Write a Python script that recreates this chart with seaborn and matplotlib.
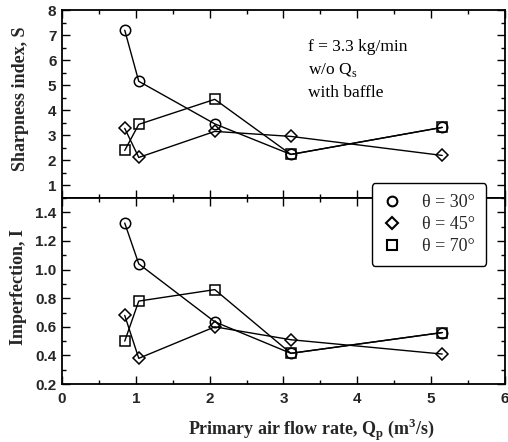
import matplotlib
matplotlib.use("Agg")
import matplotlib.pyplot as plt
from matplotlib.lines import Line2D
from matplotlib.ticker import MultipleLocator
import numpy as np
import pandas as pd
import seaborn as sns

# Primary air flow rate Qp (m^3/s)
flow_rate = [0.85, 1.04, 2.07, 3.10, 5.15]

# Sharpness index S for each inclination angle
sharpness_30 = [7.20, 5.16, 3.46, 2.24, 3.32]
sharpness_45 = [3.28, 2.12, 3.16, 2.96, 2.20]
sharpness_70 = [2.40, 3.44, 4.44, 2.24, 3.32]

# Imperfection I for each inclination angle
imperfection_30 = [1.325, 1.04, 0.635, 0.415, 0.56]
imperfection_45 = [0.68, 0.38, 0.60, 0.51, 0.41]
imperfection_70 = [0.50, 0.78, 0.86, 0.415, 0.56]

angle_labels = ["θ = 30°", "θ = 45°", "θ = 70°"]
angle_markers = ["o", "D", "s"]

sns.set_theme(style="white")
plt.rcParams["font.family"] = ["Liberation Sans", "DejaVu Sans"]
plt.rcParams["mathtext.fontset"] = "custom"
plt.rcParams["mathtext.rm"] = "Liberation Serif"
plt.rcParams["mathtext.bf"] = "Liberation Serif:bold"

fig = plt.figure(figsize=(5.08, 4.42), dpi=100)
ax_top = fig.add_axes([0.122, 0.552, 0.872, 0.425])
ax_bot = fig.add_axes([0.122, 0.131, 0.872, 0.421])

rows = []
for lab, s_vals, i_vals in zip(angle_labels,
                               [sharpness_30, sharpness_45, sharpness_70],
                               [imperfection_30, imperfection_45, imperfection_70]):
    for x, s, i in zip(flow_rate, s_vals, i_vals):
        rows.append({"Qp": x, "S": s, "I": i, "angle": lab})
df = pd.DataFrame(rows)

for lab, mk in zip(angle_labels, angle_markers):
    sub = df[df["angle"] == lab]
    msize = 6.5 if mk == "D" else 7.5
    for ax, col in [(ax_top, "S"), (ax_bot, "I")]:
        sns.lineplot(data=sub, x="Qp", y=col, ax=ax, color="black", lw=1.0,
                     marker=mk, markersize=msize, markerfacecolor="none",
                     markeredgecolor="black", markeredgewidth=1.1,
                     sort=False, legend=False, estimator=None)

tick_font = {"family": "Liberation Sans", "weight": "bold", "size": 11}

for ax in (ax_top, ax_bot):
    ax.set_xlim(0, 6)
    ax.xaxis.set_major_locator(MultipleLocator(1))
    ax.xaxis.set_minor_locator(MultipleLocator(0.5))
    ax.tick_params(which="both", direction="in", top=True, right=True,
                   bottom=True, left=True, color="black", width=1.0)
    ax.tick_params(which="major", length=6)
    ax.tick_params(which="minor", length=3)
    for sp in ax.spines.values():
        sp.set_color("black")
        sp.set_linewidth(1.3)
    ax.set_xlabel("")
    ax.set_ylabel("")

ax_top.set_ylim(0.5, 8)
ax_top.set_yticks(np.arange(1, 9, 1))
ax_top.yaxis.set_minor_locator(MultipleLocator(0.5))
ax_top.set_yticklabels([str(v) for v in range(1, 9)], fontdict=tick_font)
ax_top.tick_params(labelbottom=False)

ax_bot.set_ylim(0.2, 1.5)
ax_bot.set_yticks(np.round(np.arange(0.2, 1.41, 0.2), 1))
ax_bot.yaxis.set_minor_locator(MultipleLocator(0.1))
ax_bot.set_yticklabels([f"{v:.1f}" for v in np.arange(0.2, 1.41, 0.2)], fontdict=tick_font)
ax_bot.set_xticks(range(0, 7))
ax_bot.set_xticklabels([str(v) for v in range(0, 7)], fontdict=tick_font)
ax_bot.tick_params(axis="x", pad=6)
ax_top.tick_params(axis="y", pad=4)
ax_bot.tick_params(axis="y", pad=4)

label_font = {"family": "Liberation Serif", "weight": "bold", "size": 13}
ax_top.set_ylabel("Sharpness index, S", fontdict=label_font)
ax_bot.set_ylabel("Imperfection, I", fontdict=label_font)
ax_top.yaxis.set_label_coords(-0.075, 0.53)
ax_bot.yaxis.set_label_coords(-0.079, 0.524)
ax_bot.set_xlabel(r"Primary air flow rate, Q$_\mathbf{p}$ (m$^\mathbf{3}$/s)",
                  fontdict=label_font)
ax_bot.xaxis.set_label_coords(0.564, -0.175)

ax_top.text(0.556, 0.845, "f = 3.3 kg/min\nw/o Q$_\\mathrm{s}$\nwith baffle",
            transform=ax_top.transAxes, family="Liberation Serif", fontsize=12.5,
            va="top", ha="left", linespacing=1.45, color="black")

handles = [Line2D([], [], ls="none", marker=mk, markersize=7 if mk != "D" else 6,
                  markerfacecolor="none", markeredgecolor="black",
                  markeredgewidth=1.5) for mk in angle_markers]
leg = ax_bot.legend(handles, angle_labels, loc="upper left",
                    bbox_to_anchor=(0.732, 0.586), bbox_transform=fig.transFigure,
                    borderaxespad=0.0,
                    prop={"family": "Liberation Serif", "size": 13},
                    frameon=True, fancybox=True, edgecolor="black",
                    framealpha=1.0, handletextpad=1.2, borderpad=0.6,
                    labelspacing=0.28, handlelength=1.0)
leg.get_frame().set_linewidth(1.0)
leg.set_zorder(10)

fig.savefig("out.png", dpi=100)
